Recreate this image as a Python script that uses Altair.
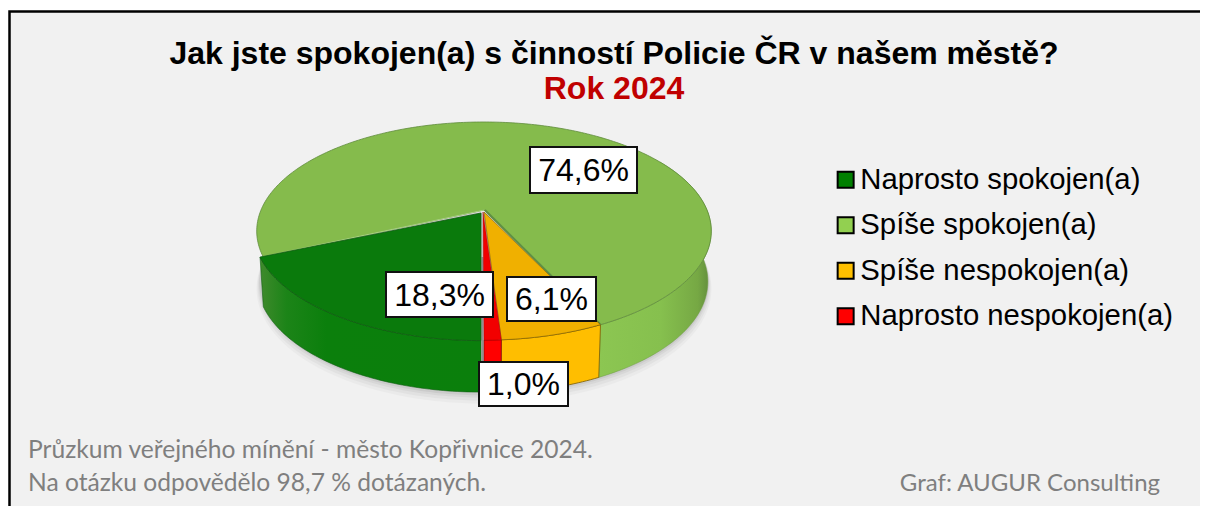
import numpy as np
import altair as alt

# ---------- data ----------
categories = ["Naprosto spokojen(a)", "Spíše spokojen(a)", "Spíše nespokojen(a)", "Naprosto nespokojen(a)"]
shares = [18.3, 74.6, 6.1, 1.0]
share_labels = ["18,3%", "74,6%", "6,1%", "1,0%"]
legend_colors = ["#007f00", "#92d050", "#ffc000", "#ff0000"]
top_colors = ["#0a7a0c", "#85bb4c", "#f0b000", "#f20000"]
title_line = "Jak jste spokojen(a) s činností Policie ČR v našem městě?"
subtitle_line = "Rok 2024"
note_lines = ["Průzkum veřejného mínění - město Kopřivnice 2024.", "Na otázku odpovědělo 98,7 % dotázaných."]
credit_line = "Graf: AUGUR Consulting"

# ---------- layout (page pixels; the chart starts at 8,8) ----------
OFF = 8
CX, CY, A, B, K = 484.0, 210.0, 105.0, 223.0, 0.193
label_boxes = [(386, 493, 272, 317), (530, 637, 147, 193), (507, 596, 277, 321), (479, 568, 362, 406)]
FONT = "Liberation Sans"
NOTE_FONT = "Lato"


def rim(t):
    u, v = np.sin(np.radians(t)), np.cos(np.radians(t))
    d = 1 + K * v
    return CX + B * u / d, CY - A * v / d


def floor(t):
    x, y = rim(t)
    v = np.cos(np.radians(t))
    return CX + (x - CX) * 0.985, y + 50 - 3 * v


def arc(fn, t0, t1, off=(0, 0)):
    n = max(3, int(abs(t1 - t0)) + 2)
    return [(fn(t)[0] + off[0], fn(t)[1] + off[1]) for t in np.linspace(t0, t1, n)]


def poly(points):
    ring = [[float(x - OFF), float(y - OFF)] for x, y in points]
    ring.append(ring[0])
    return {"type": "Feature", "properties": {}, "geometry": {"type": "Polygon", "coordinates": [ring]}}


def line(points):
    ring = [[float(x - OFF), float(y - OFF)] for x, y in points]
    return {"type": "Feature", "properties": {}, "geometry": {"type": "LineString", "coordinates": ring}}


def shape(feature, **mark):
    return alt.Chart(alt.InlineData(values=[feature])).mark_geoshape(**mark).project(
        type="identity", scale=1, translate=[0, 0]
    )


def grad(stops):
    return alt.Gradient(
        gradient="linear", x1=0, x2=1, y1=0, y2=0,
        stops=[alt.GradientStop(offset=o, color=c) for o, c in stops],
    )


# slice boundaries, clockwise from the top of the pie, starting at 6 o'clock
edges = [180.0]
for s in shares:
    edges.append(edges[-1] + s * 3.6)
d0, d1 = edges[0], edges[1]
l0, l1 = edges[1], edges[2]
y0, y1 = edges[2], edges[3]
r0, r1 = edges[3], edges[4]
yw = (y0 - 360, y1 - 360)
rw = (r0 - 360, r1 - 360)
lw_end = 60.0
yellow_start = yw[0]
DG = (-3, 0.5)
DG_FLOOR = (-3, -1)

layers = []

# panel
layers.append(alt.Chart(alt.InlineData(values=[{"a": 1}])).mark_rect(fill="#f1f1f1", stroke="#000000", strokeWidth=2.5).encode(
    x=alt.value(1.5), x2=alt.value(1240), y=alt.value(3.5), y2=alt.value(540)))

# soft shadow
for i, op in zip([7, 5, 3, 1.5], [0.025, 0.03, 0.04, 0.05]):
    layers.append(shape(poly(arc(floor, 60, 300, (0, i))), fill="#000000", stroke="#000000", strokeWidth=i, opacity=op, filled=True))

# walls, back to front
layers.append(shape(poly(arc(rim, lw_end, yellow_start) + arc(floor, yellow_start, lw_end)),
                    fill=grad([(0, "#8cc652"), (0.55, "#86c04e"), (0.88, "#76a844"), (1, "#5f8a3a")]),
                    stroke="#6d9a42", strokeWidth=0.5, filled=True))
layers.append(shape(poly(arc(rim, d1, d0, DG) + arc(floor, d0, d1, DG_FLOOR)),
                    fill=grad([(0, "#3f8a2c"), (0.12, "#1c8418"), (0.3, "#0b7f0c"), (1, "#0a7f0c")]),
                    stroke="#0f5c10", strokeWidth=0.6, filled=True))
layers.append(shape(line([(482.5, 257), (482.5, 392)]), stroke="#8f8f8f", strokeWidth=2, filled=False, fill="transparent"))
layers.append(shape(poly(arc(rim, *yw) + arc(floor, yw[1], yw[0])), fill="#ffbe00", stroke="#7a5c00", strokeWidth=0.8, filled=True))
layers.append(shape(poly(arc(rim, *rw) + arc(floor, rw[1], rw[0])), fill="#ff0000", stroke="#7a0000", strokeWidth=0.6, filled=True))

# top faces
layers.append(shape(poly([(CX, CY)] + arc(rim, l0, l1)), fill=top_colors[1], stroke="#5f8c3c", strokeWidth=0.8, filled=True))
layers.append(shape(line([(CX + 1, CY), rim(l1)]), stroke="#5f8f45", strokeWidth=2, filled=False, fill="transparent"))
layers.append(shape(line([(CX, CY), rim(l0)]), stroke="#a7d27c", strokeWidth=1.2, filled=False, fill="transparent"))
layers.append(shape(poly([(481, 213)] + arc(rim, d0, d1, DG)), fill=top_colors[0], stroke="#0f5c10", strokeWidth=0.8, filled=True))
layers.append(shape(poly([(484, 212)] + arc(rim, *yw)), fill=top_colors[2], stroke="#7a5c00", strokeWidth=0.6, filled=True))
layers.append(shape(poly([(483, 212)] + arc(rim, *rw)), fill=top_colors[3], stroke="#a00000", strokeWidth=0.4, filled=True))

# value labels
for (x0, x1, t, b), txt in zip(label_boxes, share_labels):
    layers.append(alt.Chart(alt.InlineData(values=[{"a": 1}])).mark_rect(fill="#ffffff", stroke="#111111", strokeWidth=2).encode(
        x=alt.value(x0 - OFF), x2=alt.value(x1 - OFF), y=alt.value(t - OFF), y2=alt.value(b - OFF)))
    layers.append(alt.Chart(alt.InlineData(values=[{"t": txt}])).mark_text(
        font=FONT, fontSize=32, color="#000000", align="center", baseline="alphabetic").encode(
        text="t:N", x=alt.value((x0 + x1) / 2 - OFF), y=alt.value((t + b) / 2 + 11 - OFF)))


def caption(txt, x, y, size, color, font=FONT, weight="normal", align="left"):
    return alt.Chart(alt.InlineData(values=[{"t": txt}])).mark_text(
        font=font, fontSize=size, color=color, fontWeight=weight, align=align, baseline="alphabetic").encode(
        text="t:N", x=alt.value(x - OFF), y=alt.value(y - OFF))


layers.append(caption(title_line, 614, 64, 32, "#000000", weight="bold", align="center"))
layers.append(caption(subtitle_line, 614, 99, 32, "#c00000", weight="bold", align="center"))
layers.append(caption(note_lines[0], 28, 458, 24.6, "#7f7f7f", font=NOTE_FONT))
layers.append(caption(note_lines[1], 28, 491, 24.6, "#7f7f7f", font=NOTE_FONT))
layers.append(caption(credit_line, 1160, 491, 24, "#7f7f7f", font=NOTE_FONT, align="right"))

# legend
legend = alt.Legend(
    orient="none", legendX=831 - OFF, legendY=165 - OFF, title=None, padding=0,
    symbolType="square", symbolSize=256, symbolStrokeColor="#000000", symbolStrokeWidth=2,
    symbolOpacity=1, labelFont=FONT, labelFontSize=29.3, labelColor="#000000", labelOffset=0,
    rowPadding=15.5, labelLimit=400,
)
layers.append(alt.Chart(alt.InlineData(values=[{"c": c} for c in categories])).mark_point(
    opacity=0, filled=True, size=1).encode(
    x=alt.value(-50), y=alt.value(-50),
    color=alt.Color("c:N", sort=categories, legend=legend,
                    scale=alt.Scale(domain=categories, range=legend_colors))))

chart = alt.layer(*layers).properties(
    width=1192, height=498, padding=0, autosize=alt.AutoSizeParams(type="none"), background="transparent"
).configure_view(strokeWidth=0)

chart.save("out.html", embed_options={"renderer": "svg", "actions": False})
